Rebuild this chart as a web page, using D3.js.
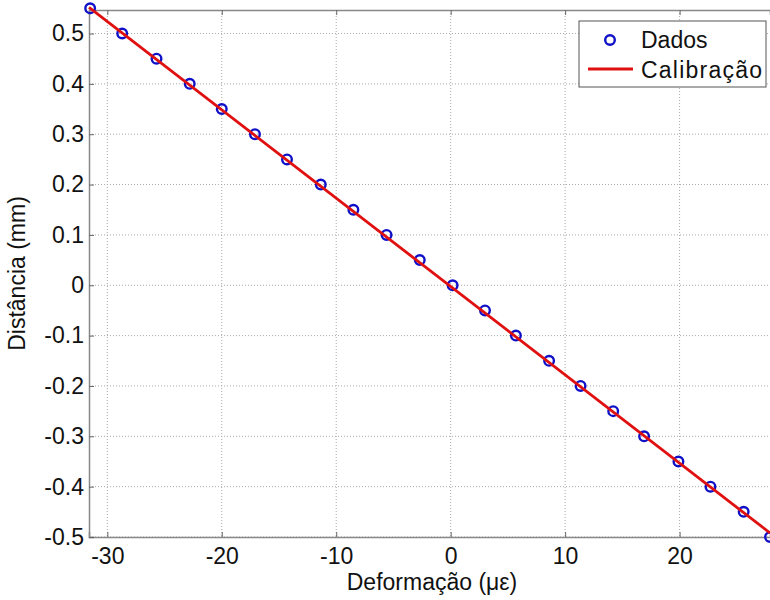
<!DOCTYPE html>
<html>
<head>
<meta charset="utf-8">
<script src="https://cdn.jsdelivr.net/npm/d3@7"></script>
<style>
  body { margin: 0; background: #fff; }
  svg { font-family: "Liberation Sans", Arial, sans-serif; }
</style>
</head>
<body>
<svg width="770" height="600"></svg>
<script>
// measured points (deformation in microstrain, distance in mm)
const dadosX = [-31.5, -28.7, -25.7, -22.8, -20.0, -17.1, -14.3, -11.35, -8.5, -5.6, -2.7,
  0.17, 3.0, 5.7, 8.6, 11.35, 14.2, 16.9, 19.9, 22.7, 25.6, 27.9]
const dadosY = [0.55, 0.5, 0.45, 0.4, 0.35, 0.3, 0.25, 0.2, 0.15, 0.1, 0.05,
  0, -0.05, -0.1, -0.15, -0.2, -0.25, -0.3, -0.35, -0.4, -0.45, -0.5]
// calibration line end points
const calX = [-31.6, 27.9]
const calY = [0.552, -0.492]
const xTicks = [-30, -20, -10, 0, 10, 20]
const yTicks = [-0.5, -0.4, -0.3, -0.2, -0.1, 0, 0.1, 0.2, 0.3, 0.4, 0.5]

const svg = d3.select('svg')
const mLeft = 89, mRight = 770, mTop = 10, mBottom = 537

const x = d3.scaleLinear().domain([-31.6, 27.9]).range([mLeft, mRight])
const y = d3.scaleLinear().domain([-0.5, 0.5467]).range([mBottom, mTop])

// grid
const grid = svg.append('g').attr('class', 'grid')
grid.selectAll('line.gx').data(xTicks).enter().append('line')
  .attr('x1', d => x(d)).attr('x2', d => x(d))
  .attr('y1', mTop).attr('y2', mBottom)
  .attr('stroke', '#aaa').attr('stroke-width', 1).attr('stroke-dasharray', '1,2')
grid.selectAll('line.gy').data(yTicks).enter().append('line')
  .attr('y1', d => y(d)).attr('y2', d => y(d))
  .attr('x1', mLeft).attr('x2', mRight)
  .attr('stroke', '#aaa').attr('stroke-width', 1).attr('stroke-dasharray', '1,2')

// axes
const fmtY = d => d === 0 ? '0' : d3.format('.1f')(d).replace('−', '-')
const xAxis = svg.append('g').attr('transform', `translate(0,${mBottom})`)
  .call(d3.axisBottom(x).tickValues(xTicks).tickSize(-5).tickPadding(11).tickFormat(d => String(d)))
const xTop = svg.append('g').attr('transform', `translate(0,${mTop})`)
  .call(d3.axisTop(x).tickValues(xTicks).tickSize(-5).tickFormat(''))
const yAxis = svg.append('g').attr('transform', `translate(${mLeft},0)`)
  .call(d3.axisLeft(y).tickValues(yTicks).tickSize(-5).tickPadding(5).tickFormat(fmtY))

for (const a of [xAxis, xTop, yAxis]) {
  a.select('.domain').attr('stroke', '#888').attr('stroke-width', 1.5)
  a.selectAll('.tick line').attr('stroke', '#666')
  a.selectAll('.tick text').attr('font-size', 23).attr('fill', '#111')
}

// data
svg.append('g').selectAll('circle').data(dadosX).enter().append('circle')
  .attr('cx', d => x(d)).attr('cy', (d, i) => y(dadosY[i]))
  .attr('r', 4.8).attr('fill', 'none').attr('stroke', '#1010c8').attr('stroke-width', 2.4)

const line = d3.line().x(d => x(d[0])).y(d => y(d[1]))
svg.append('path').datum(calX.map((d, i) => [d, calY[i]]))
  .attr('d', line).attr('fill', 'none').attr('stroke', '#e01010').attr('stroke-width', 2.8)

// labels
svg.append('text').attr('x', 432).attr('y', 590).attr('text-anchor', 'middle')
  .attr('font-size', 23).attr('fill', '#111').text('Deformação (με)')
svg.append('text').attr('transform', `translate(25,${(mTop + mBottom) / 2}) rotate(-90)`)
  .attr('text-anchor', 'middle').attr('font-size', 23).attr('fill', '#111').text('Distância (mm)')

// legend
const lg = svg.append('g')
lg.append('rect').attr('x', 579).attr('y', 21).attr('width', 187).attr('height', 66)
  .attr('fill', '#fff').attr('stroke', '#555').attr('stroke-width', 1)
lg.append('circle').attr('cx', 610).attr('cy', 40).attr('r', 4.8)
  .attr('fill', 'none').attr('stroke', '#1010c8').attr('stroke-width', 2.4)
lg.append('line').attr('x1', 588).attr('x2', 633).attr('y1', 69).attr('y2', 69)
  .attr('stroke', '#e01010').attr('stroke-width', 2.8)
lg.append('text').attr('x', 641).attr('y', 48).attr('font-size', 23).attr('fill', '#111').text('Dados')
lg.append('text').attr('x', 641).attr('y', 78).attr('font-size', 23).attr('fill', '#111')
  .attr('textLength', 121).text('Calibração')
</script>
</body>
</html>
